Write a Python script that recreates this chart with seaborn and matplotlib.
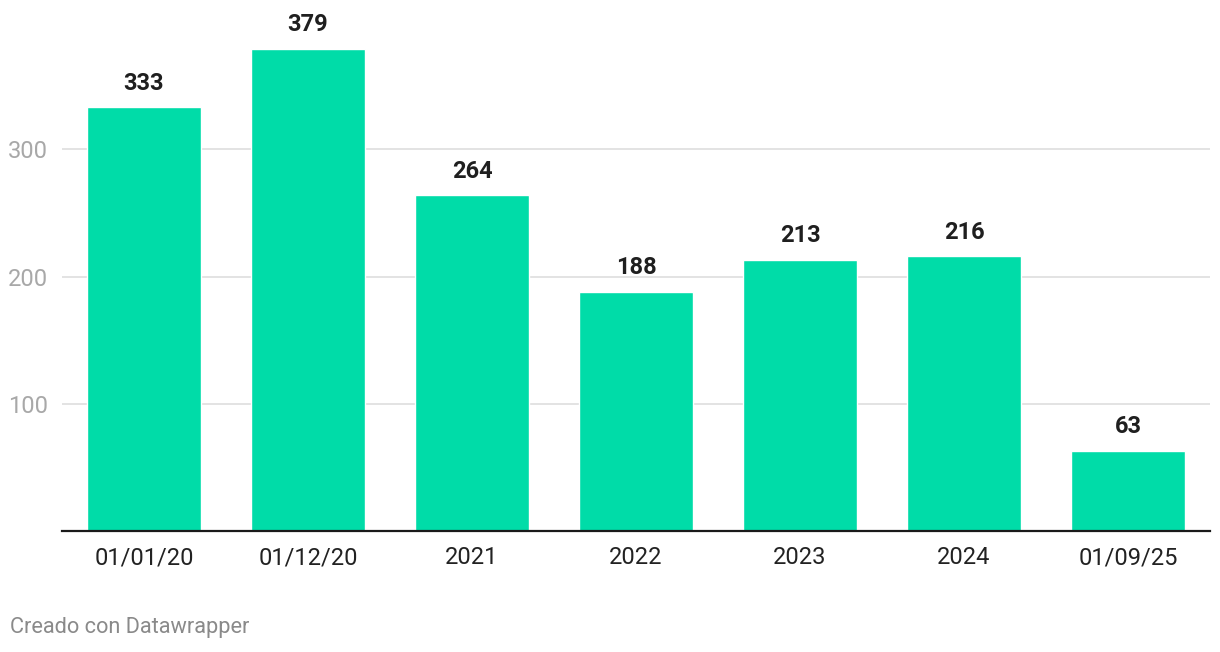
import pandas as pd
import matplotlib.pyplot as plt
import seaborn as sns

periods = ["01/01/20", "01/12/20", "2021", "2022", "2023", "2024", "01/09/25"]
values = [333, 379, 264, 188, 213, 216, 63]
yticks = [100, 200, 300]

df = pd.DataFrame({"periodo": periods, "valor": values})

sns.set_style("white")
plt.rcParams["font.family"] = ["Roboto", "DejaVu Sans"]

fig = plt.figure(figsize=(12.2, 6.52), dpi=100)
ax = fig.add_axes([62 / 1220, 121 / 652, 1148 / 1220, 509 / 652])

sns.barplot(data=df, x="periodo", y="valor", color="#00dca8", saturation=1,
            width=0.7, ax=ax, zorder=3)

ax.set_ylim(0, 400)
ax.set_xlim(-0.5, 6.5)
ax.set_yticks(yticks)
ax.set_yticklabels([str(t) for t in yticks])
ax.grid(axis="y", color="#e1e1e1", linewidth=1.3, zorder=0)
ax.set_axisbelow(True)
ax.tick_params(axis="y", length=0, pad=10, labelsize=17, labelcolor="#a8a8a8")
ax.tick_params(axis="x", length=0, pad=11, labelsize=17, labelcolor="#222222")
ax.set_xlabel("")
ax.set_ylabel("")

for s in ["top", "right", "left"]:
    ax.spines[s].set_visible(False)
ax.spines["bottom"].set_color("#1a1a1a")
ax.spines["bottom"].set_linewidth(1.6)
ax.spines["bottom"].set_zorder(5)

for i, v in enumerate(values):
    ax.annotate(str(v), (i, v), xytext=(0, 9), textcoords="offset points",
                ha="center", va="bottom", fontsize=17, fontweight="bold",
                color="#1f1f1f", clip_on=False)

fig.text(10 / 1220, 1 - 628 / 652, "Creado con Datawrapper", fontsize=15.7,
         color="#8a8a8a", ha="left", va="center")

fig.savefig("out.png", dpi=100)
